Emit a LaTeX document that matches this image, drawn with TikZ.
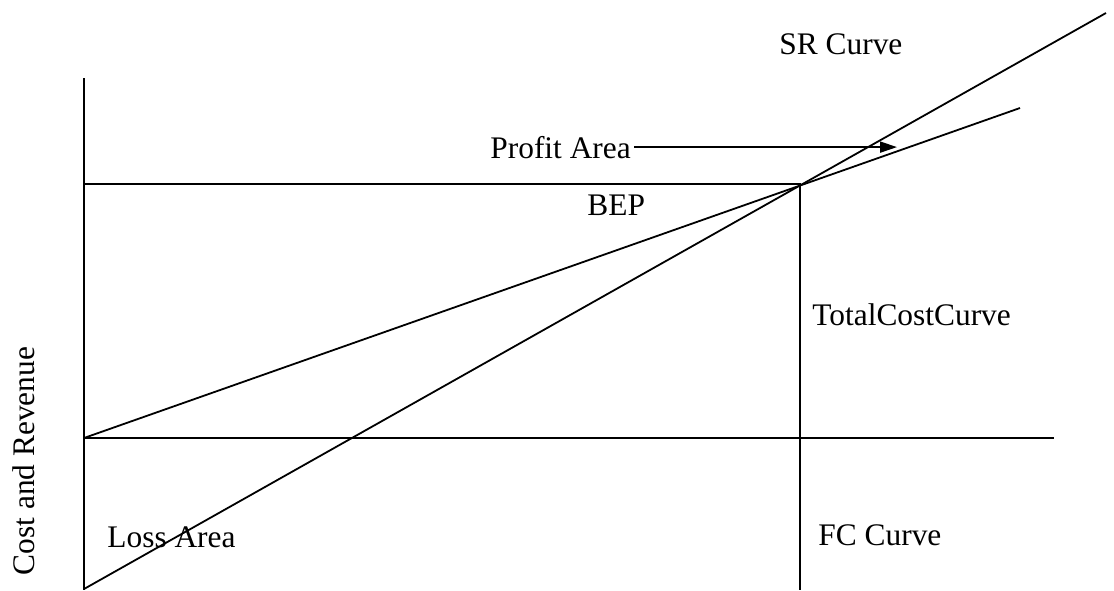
\documentclass[tikz,border=0pt]{standalone}
\usepackage{fontspec}
\setmainfont{Liberation Serif}
\usepackage{tikz}
\usetikzlibrary{arrows.meta}
\tikzset{
  curve/.style={draw=black,line width=0.9pt},
  lbl/.style={font=\fontsize{15.7}{18}\selectfont,inner sep=0pt,anchor=base west},
  arrow/.style={-{Triangle[length=8.5pt,width=5.5pt]},line width=0.9pt,draw=black}
}
\begin{document}
\begin{tikzpicture}[x=0.5pt,y=-0.5pt,
  axislabel/.style={lbl,anchor=center,rotate=90}
]
  \useasboundingbox (0,0) rectangle (1114,590);
  % axis and break-even frame
  \coordinate (axistop) at (84,78);
  \coordinate (axisbot) at (84,590);
  \coordinate (origin) at (84,589);
  \coordinate (fcstart) at (84,438);
  \coordinate (fcend) at (1054,438);
  \coordinate (bep) at (800,184);
  \coordinate (beplow) at (800,590);
  \coordinate (srend) at (1106,13);
  \coordinate (tcend) at (1020,108);
  \coordinate (profittip) at (897,145);

  \draw[curve] (axistop) -- (axisbot);
  \draw[curve] (bep -| axistop) -- (bep) -- (beplow);
  \draw[curve] (fcstart) -- (fcend);
  \draw[curve] (origin) -- (srend);
  \draw[curve] (fcstart) -- (tcend);

  \node[lbl] (sr) at (779,54) {SR Curve};
  \node[lbl] (profit) at (490,158) {Profit Area};
  \node[lbl] (beplabel) at (587,215) {BEP};
  \node[lbl] (tc) at (812,325) {TotalCostCurve};
  \node[lbl] (loss) at (107,547) {Loss Area};
  \node[lbl] (fc) at (818,545) {FC Curve};
  \node[axislabel] (ylabel) at (24,461) {Cost and Revenue};

  \draw[arrow] ([xshift=1.5]profit.east) -- (profit.east -| profittip);
\end{tikzpicture}
\end{document}
